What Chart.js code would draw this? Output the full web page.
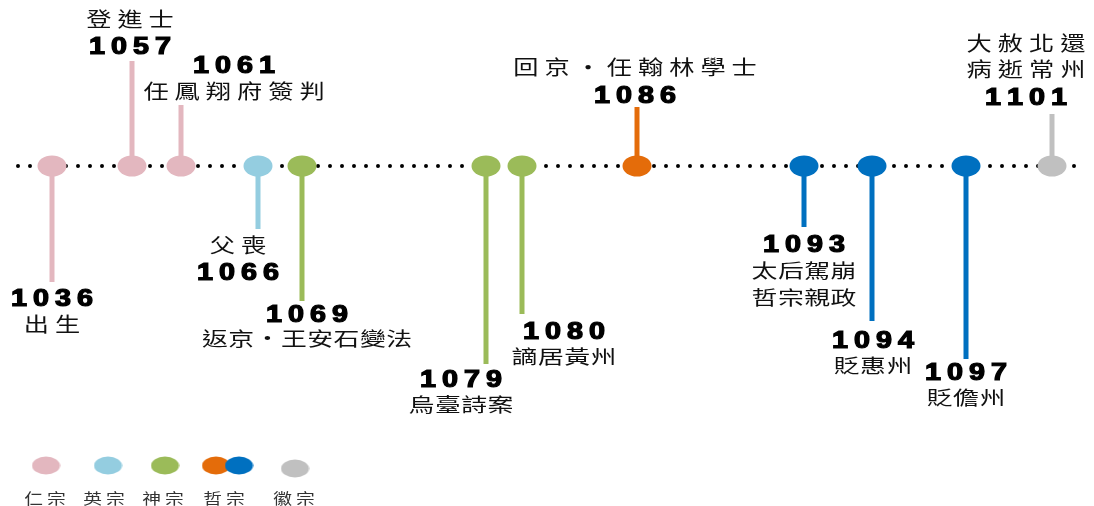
<!DOCTYPE html>
<html>
<head>
<meta charset="utf-8">
<script src="https://cdn.jsdelivr.net/npm/chart.js@4/dist/chart.umd.min.js"></script>
<style>
  html, body { margin: 0; padding: 0; background: #ffffff; }
  #wrap { position: relative; width: 1094px; height: 506px; }
</style>
</head>
<body>
<div id="wrap"><canvas id="graph"></canvas></div>
<script>
// timeline data
const years = ['1036','1057','1061','1066','1069','1079','1080','1086','1093','1094','1097','1101'];
const events = [['出生'],['登進士'],['任鳳翔府簽判'],['父喪'],['返京・王安石變法'],['烏臺詩案'],['謫居黃州'],
                ['回京・任翰林學士'],['太后駕崩','哲宗親政'],['貶惠州'],['貶儋州'],['大赦北還','病逝常州']];
const timelinePos = [52,132,181,258,302,486,522,637,804,872,966,1052];
const stemLength = [-116,105,61,-63,-135,-198,-148,59,-61,-155,-193,52];
const reignOf = [0,0,0,1,2,2,2,3,3,3,3,4];
const reigns = ['仁宗','英宗','神宗','哲宗','徽宗'];

// styles
const reignColors = [['#e3b7bf'],['#94cde0'],['#9bbb59'],['#e46c0a','#0070c0'],['#c0c0c0']];
const eventColors = ['#e3b7bf','#e3b7bf','#e3b7bf','#94cde0','#9bbb59','#9bbb59','#9bbb59','#e46c0a','#0070c0','#0070c0','#0070c0','#c0c0c0'];

// label layout: dx from stem, order of lines with y offset from stem end
const labelLayout = [
  {dx: 0,   tight: false, lines: [['y', 15], [0, 40]]},
  {dx: -2,  tight: false, lines: [[0, -44], ['y', -16]]},
  {dx: 53,  tight: false, lines: [['y', -41], [0, -16]]},
  {dx: -20, tight: false, lines: [[0, 14], ['y', 42]]},
  {dx: 5,   tight: true,  lines: [['y', 12], [0, 36]]},
  {dx: -25, tight: true,  lines: [['y', 14], [0, 39]]},
  {dx: 42,  tight: true,  lines: [['y', 16], [0, 41]]},
  {dx: -2,  tight: false, lines: [[0, -42], ['y', -13]]},
  {dx: 0,   tight: true,  lines: [['y', 16], [0, 42], [1, 69]]},
  {dx: 1,   tight: true,  lines: [['y', 18], [0, 43]]},
  {dx: 0,   tight: true,  lines: [['y', 12], [0, 37]]},
  {dx: -26, tight: false, lines: [[0, -73], [1, -47], ['y', -18]]}
];

function ellipse(color, w, h) {
  const c = document.createElement('canvas');
  c.width = w; c.height = h;
  const g = c.getContext('2d');
  g.fillStyle = color;
  g.beginPath();
  g.ellipse(w / 2, h / 2, w / 2 - 0.5, h / 2 - 0.5, 0, 0, Math.PI * 2);
  g.fill();
  return c;
}

function drawSpaced(ctx, text, cx, cy, font, sx, ls, color, stroke) {
  ctx.save();
  ctx.font = font;
  ctx.fillStyle = color;
  ctx.strokeStyle = color;
  ctx.textBaseline = 'middle';
  ctx.textAlign = 'left';
  const chars = Array.from(text);
  const widths = chars.map(ch => ctx.measureText(ch).width * sx);
  const total = widths.reduce((a, b) => a + b, 0) + ls * (chars.length - 1);
  let x = cx - total / 2;
  chars.forEach((ch, i) => {
    ctx.save();
    ctx.translate(x, cy);
    ctx.scale(sx, 1);
    ctx.fillText(ch, 0, 0);
    if (stroke) { ctx.lineWidth = stroke; ctx.strokeText(ch, 0, 0); }
    ctx.restore();
    x += widths[i] + ls;
  });
  ctx.restore();
}

const CJK = '"Noto Sans CJK TC", "Noto Sans CJK SC", sans-serif';

const labelPlugin = {
  id: 'labels',
  afterDatasetsDraw(chart) {
    const ctx = chart.ctx;
    const sx = chart.scales.x, sy = chart.scales.y;
    years.forEach((yr, i) => {
      const lay = labelLayout[i];
      const cx = sx.getPixelForValue(timelinePos[i]) + lay.dx;
      const ey = sy.getPixelForValue(stemLength[i]);
      lay.lines.forEach(([what, dy]) => {
        if (what === 'y') {
          drawSpaced(ctx, yr, cx, ey + dy + 3, 'bold 23px "Liberation Sans", Arial, sans-serif', 1.25, 6, '#000000', 1.2);
        } else if (lay.tight) {
          drawSpaced(ctx, events[i][what], cx, ey + dy + 2, '19px ' + CJK, 1.36, 0.5, '#111111');
        } else {
          drawSpaced(ctx, events[i][what], cx, ey + dy + 2, '20px ' + CJK, 1.26, 6, '#111111');
        }
      });
    });

    // reign legend
    const legendX = [46, 108, 165, 216, 295];
    const textX = [45, 104, 163, 224, 294];
    reigns.forEach((name, i) => {
      const cols = reignColors[i];
      cols.forEach((c, k) => {
        const img = ellipse(c, 29, 19);
        ctx.drawImage(img, legendX[i] + k * 23 - 14.5, 456 + (i === 4 ? 3 : 0));
      });
      drawSpaced(ctx, name, textX[i], 498, '15px ' + CJK, 1.25, 4, '#333333');
    });
  }
};

const datasets = [];
datasets.push({
  type: 'scatter',
  order: 0,
  data: timelinePos.map((p, i) => ({x: p, y: 0})),
  pointStyle: eventColors.map(c => ellipse(c, 30, 22)),
  pointRadius: 11,
  pointHoverRadius: 11
});
timelinePos.forEach((p, i) => {
  datasets.push({
    type: 'line',
    order: 1,
    data: [{x: p, y: 0}, {x: p, y: stemLength[i]}],
    borderColor: eventColors[i],
    borderWidth: 5,
    pointRadius: 0,
    borderCapStyle: 'butt'
  });
});
datasets.push({
  type: 'line',
  order: 2,
  data: [{x: 18, y: 0}, {x: 1082, y: 0}],
  borderColor: '#000000',
  borderWidth: 4,
  borderDash: [0, 12],
  borderCapStyle: 'round',
  pointRadius: 0
});

new Chart(document.getElementById('graph').getContext('2d'), {
  data: { datasets: datasets },
  options: {
    responsive: true,
    maintainAspectRatio: false,
    animation: false,
    layout: { padding: 0, autoPadding: false },
    scales: {
      x: { type: 'linear', min: 0, max: 1094, display: false },
      y: { type: 'linear', min: -340, max: 166, display: false }
    },
    plugins: { legend: { display: false }, tooltip: { enabled: false } }
  },
  plugins: [labelPlugin]
});
</script>
</body>
</html>
